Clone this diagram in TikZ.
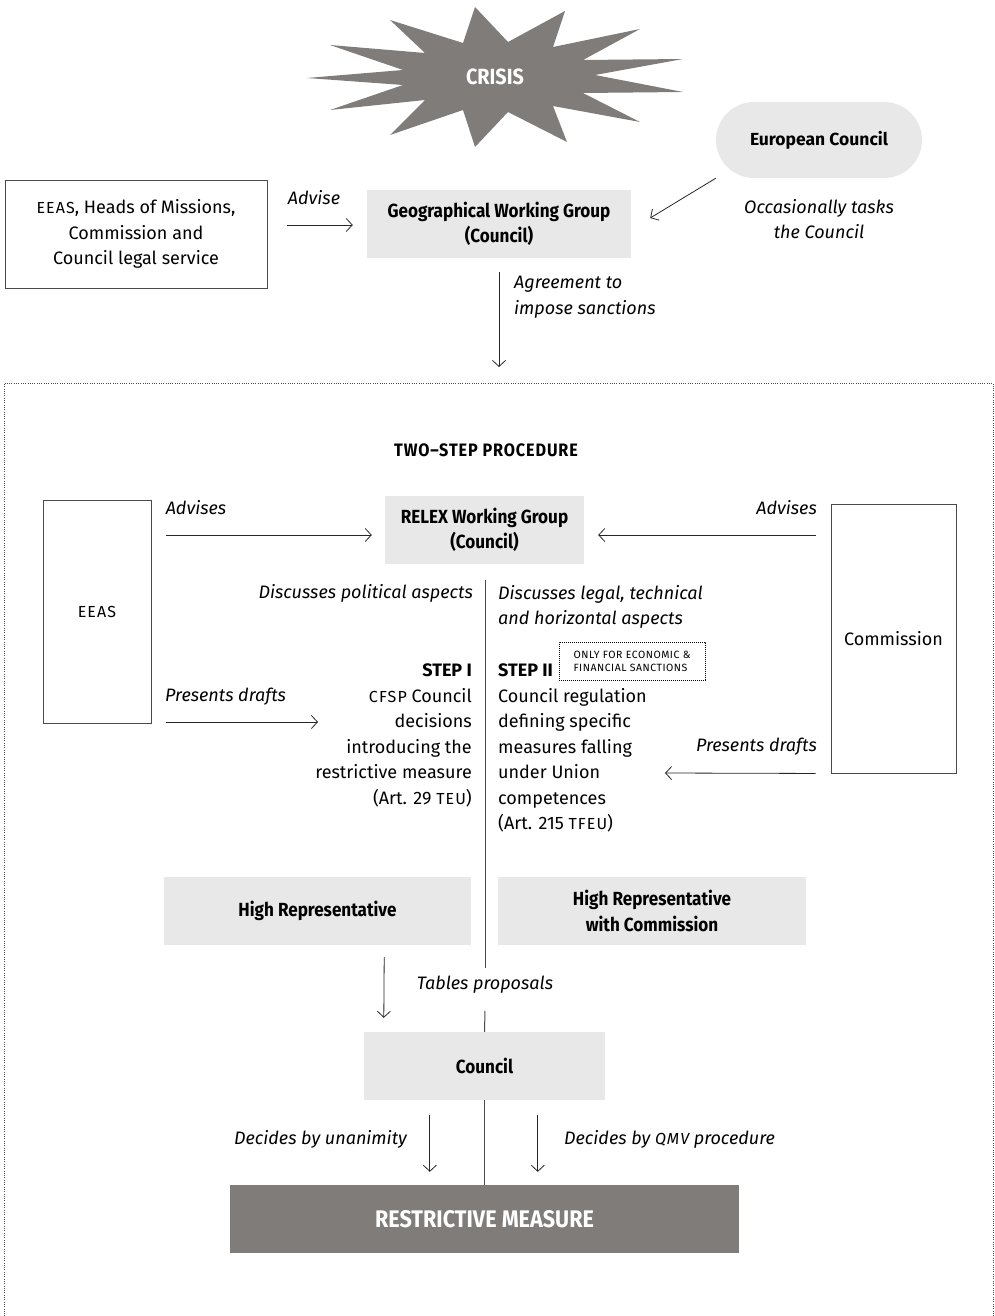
\documentclass[tikz,border=0pt]{standalone}
\usepackage{fontspec}
\setmainfont{Fira Sans}
\newfontfamily\condfont{Fira Sans}[FakeStretch=0.9]
\usepackage{tikz}
\usetikzlibrary{arrows.meta,calc,positioning}
\definecolor{boxgray}{HTML}{E8E8E8}
\definecolor{darkgray}{HTML}{807C79}
\definecolor{linegray}{HTML}{4A4A4A}
\newcommand{\acr}[1]{{\fontsize{16}{16}\selectfont\addfontfeatures{LetterSpace=7}#1}}

\begin{document}
\begin{tikzpicture}[x=1pt,y=-1pt]
\tikzstyle{txt}=[font=\fontsize{18}{25.5}\selectfont, inner sep=0pt]
\tikzstyle{main}=[rectangle, fill=boxgray, txt, align=center, font=\condfont\bfseries\fontsize{19}{25.5}\selectfont]
\tikzstyle{plain}=[rectangle, draw=linegray, line width=0.9pt, fill=white, txt, align=center]
\tikzstyle{dark}=[rectangle, fill=darkgray, text=white, align=center, font=\condfont\bfseries\fontsize{24}{24}\selectfont]
\tikzstyle{label}=[txt, font=\itshape\fontsize{18}{25.5}\selectfont]
\tikzstyle{connect}=[-{Straight Barb[length=6pt,width=13pt]}, line width=0.8pt, draw=black!85]
\tikzstyle{divider}=[line width=1pt, draw=linegray]
\useasboundingbox (0,0) rectangle (995,1316);

  % crisis burst
  \fill[darkgray] (475,7) -- (508,42) -- (565,11) -- (553,47) -- (640,29) -- (583,60)
    -- (683,59) -- (595,75) -- (683,92) -- (583,93) -- (640,122) -- (553,106)
    -- (567,142) -- (508,112) -- (475,147) -- (463,110) -- (390,135) -- (425,100)
    -- (330,110) -- (403,85) -- (307,78) -- (403,70) -- (330,45) -- (425,53)
    -- (390,20) -- (463,43) -- cycle;
  \node[text=white, font=\condfont\bfseries\fontsize{22}{22}\selectfont] (crisis) at (495,77) {CRISIS};

  % top part
  \node[plain, minimum width=262, minimum height=108] (sources) at (136,234)
    {\acr{EEAS}, Heads of Missions,\\Commission and\\Council legal service};
  \node[main, minimum width=264, minimum height=68] (geo) at (499,224)
    {Geographical Working Group\\(Council)};
  \node[main, rounded corners=38, minimum width=206, minimum height=76,
    font=\bfseries\fontsize{17.5}{20}\selectfont] (eucouncil) at (819,140) {European Council};

  \node[label] (advise) at (314,198) {Advise};
  \node[label, align=center] (tasks) at (819,219) {Occasionally tasks\\the Council};
  \node[label, align=left, anchor=west] (agree) at (514,297) {Agreement to\\impose sanctions};

  \coordinate (procin) at (499,367);

  \draw[connect] ($(sources.east |- geo.west)+(20,1)$) -- ($(geo.west)+(-14,1)$);
  \draw[connect] (eucouncil.south west) -- ($(geo.east)+(19,-6)$);
  \draw[connect] ($(geo.south)+(0,14)$) -- (procin);

  % two-step procedure frame
  \draw[line width=0.7pt, dash pattern=on 0.8pt off 1.5pt, draw=linegray] (4,1330) |- (993,383) -- (993,1330);
  \node[font=\condfont\bfseries\fontsize{18}{18}\selectfont\addfontfeatures{LetterSpace=5}] (twostep) at (486,450)
    {TWO–STEP PROCEDURE};

  \node[main, minimum width=199, minimum height=68] (relex) at (484.5,530)
    {RELEX Working Group\\(Council)};
  \node[plain, minimum width=108, minimum height=223] (eeas) at (97,611.5) {\acr{EEAS}};
  \node[plain, minimum width=125, minimum height=269] (commission) at (893.5,638.5) {Commission};

  \node[label] (adviseL) at (196,508) {Advises};
  \node[label, anchor=east] (adviseR) at (817,508) {Advises};
  \draw[connect] ($(eeas.east |- relex.west)+(15,5)$) -- ($(relex.west)+(-13,5)$);
  \draw[connect] ($(commission.west |- relex.east)+(-15,5)$) -- ($(relex.east)+(14,5)$);

  \coordinate (divtop) at (485,580);
  \coordinate (divbot) at (485,968);
  \draw[divider] (divtop) -- (divbot);

  \node[label, anchor=east] (political) at (473,593) {Discusses political aspects};
  \node[label, anchor=north west, align=left] (legal) at (498,585)
    {Discusses legal, technical\\and horizontal aspects};

  \node[txt, anchor=north east, align=right] (stepone) at (472,664)
    {\textbf{STEP I}\\\acr{CFSP} Council\\decisions\\introducing the\\restrictive measure\\(Art. 29 \acr{TEU})};
  \node[txt, anchor=north west, align=left] (steptwo) at (498,664)
    {\textbf{STEP II}\\Council regulation\\defining specific\\measures falling\\under Union\\competences\\(Art. 215 \acr{TFEU})};
  \node[draw=black, line width=0.8pt, dash pattern=on 0.8pt off 1.2pt, minimum width=146, minimum height=38,
    align=left, inner sep=3pt, font=\fontsize{10.5}{13}\selectfont\addfontfeatures{LetterSpace=5}] (onlyecon) at (632,661)
    {ONLY FOR ECONOMIC \&\\FINANCIAL SANCTIONS};

  \node[label, anchor=west] (draftsL) at (165,697) {Presents drafts};
  \node[label, anchor=east] (draftsR) at (817,747) {Presents drafts};
  \coordinate (draftsLend) at (318,722);
  \coordinate (draftsRend) at (665,773);
  \draw[connect] ($(eeas.east)+(15,110.5)$) -- (draftsLend);
  \draw[connect] ($(commission.south west)+(-15,0)$) -- (draftsRend);

  \node[main, minimum width=307, minimum height=68] (hrleft) at (317.5,911) {High Representative};
  \node[main, minimum width=308, minimum height=68] (hrright) at (652,911) {High Representative\\with Commission};

  \node[label] (tables) at (485,985) {Tables proposals};
  \node[main, minimum width=241, minimum height=68] (council) at (484.5,1066) {Council};
  \draw[divider] ($(tables.south)+(0,17)$) -- (council.north);
  \draw[connect] ($(hrleft.south east)+(-87,12)$) -- ($(council.north west)+(20,-14)$);

  \node[dark, minimum width=509, minimum height=68] (restrictive) at (484.5,1219) {RESTRICTIVE MEASURE};
  \draw[divider] (council.south) -- (restrictive.north);

  \node[label, anchor=east] (unanimity) at (407,1139) {Decides by unanimity};
  \node[label, anchor=west] (qmv) at (564,1139) {Decides by \acr{QMV} procedure};
  \draw[connect] ($(council.south west)+(66,15)$) -- ($(restrictive.north west)+(200,-13)$);
  \draw[connect] ($(council.south west)+(174,15)$) -- ($(restrictive.north west)+(308,-13)$);

\end{tikzpicture}
\end{document}
